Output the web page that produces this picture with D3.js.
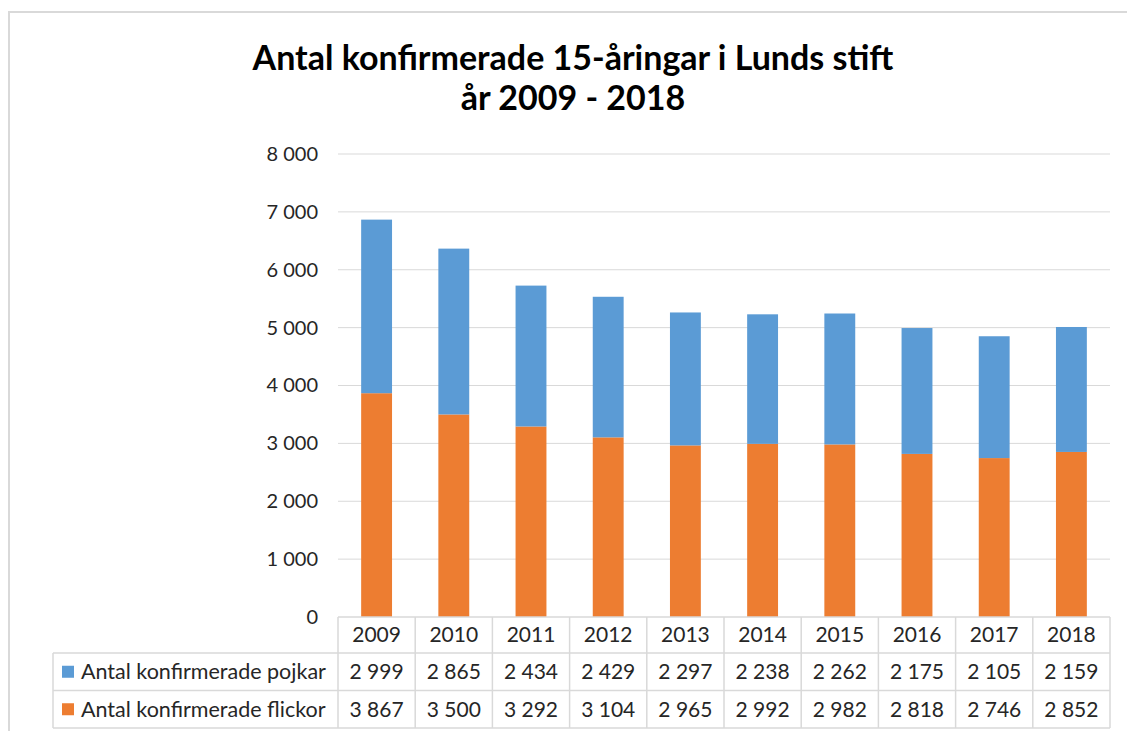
<!DOCTYPE html>
<html>
<head>
<meta charset="utf-8">
<script src="https://cdn.jsdelivr.net/npm/d3@7"></script>
<style>
  body { margin: 0; background: #fff; }
  text { font-family: Lato, "Noto Sans", sans-serif; }
</style>
</head>
<body>
<svg id="chart" width="1127" height="731"></svg>
<script>
// data
const years = ["2009", "2010", "2011", "2012", "2013", "2014", "2015", "2016", "2017", "2018"]
const pojkar = [2999, 2865, 2434, 2429, 2297, 2238, 2262, 2175, 2105, 2159]
const flickor = [3867, 3500, 3292, 3104, 2965, 2992, 2982, 2818, 2746, 2852]
const seriesNames = ["Antal konfirmerade pojkar", "Antal konfirmerade flickor"]
const yTicks = [0, 1000, 2000, 3000, 4000, 5000, 6000, 7000, 8000]

const blue = "#5b9bd5"
const orange = "#ed7d31"
const gridColor = "#d9d9d9"
const textColor = "#262626"

const svg = d3.select("#chart")
const fmt = d3.formatLocale({ decimal: ",", thousands: " ", grouping: [3], currency: ["", ""] }).format(",d")

let plotLeft = 338
let plotRight = 1110
let plotTop = 154
let plotBottom = 617
let rowH = 37.5
let tableLeft = 53

// outer frame
svg.append("path")
    .attr("d", "M9,731 L9,12 L1127,12")
    .attr("fill", "none")
    .attr("stroke", gridColor)
    .attr("stroke-width", 2)

// title
svg.append("text")
    .attr("x", 573).attr("y", 70)
    .attr("text-anchor", "middle")
    .attr("font-size", 34).attr("font-weight", "bold")
    .attr("fill", "#000")
    .text("Antal konfirmerade 15-åringar i Lunds stift")
svg.append("text")
    .attr("x", 573).attr("y", 110)
    .attr("text-anchor", "middle")
    .attr("font-size", 34).attr("font-weight", "bold")
    .attr("fill", "#000")
    .text("år 2009 - 2018")

const x = d3.scaleBand().domain(years).range([plotLeft, plotRight]).paddingInner(0.6).paddingOuter(0.3)
const xCol = d3.scaleBand().domain(years).range([plotLeft, plotRight])
const y = d3.scaleLinear().domain([0, 8000]).range([plotBottom, plotTop])

// gridlines
svg.append("g")
    .selectAll("line")
    .data(yTicks.filter(d => d > 0))
    .join("line")
    .attr("x1", plotLeft).attr("x2", plotRight)
    .attr("y1", d => y(d)).attr("y2", d => y(d))
    .attr("stroke", gridColor).attr("stroke-width", 1)

// y axis labels
const yAxis = d3.axisLeft(y).tickValues(yTicks).tickFormat(fmt).tickSize(0).tickPadding(20)
const yg = svg.append("g").attr("transform", `translate(${plotLeft},0)`).call(yAxis)
yg.select(".domain").remove()
yg.selectAll("text")
    .attr("font-size", 20)
    .attr("font-family", "Lato, sans-serif")
    .attr("fill", textColor)

// stacked bars
const stackData = years.map((yr, i) => ({ year: yr, flickor: flickor[i], pojkar: pojkar[i] }))
const stack = d3.stack().keys(["flickor", "pojkar"])(stackData)
const colors = { flickor: orange, pojkar: blue }

svg.append("g")
    .selectAll("g")
    .data(stack)
    .join("g")
    .attr("fill", d => colors[d.key])
    .selectAll("rect")
    .data(d => d)
    .join("rect")
    .attr("x", d => x(d.data.year))
    .attr("width", x.bandwidth())
    .attr("y", d => y(d[1]))
    .attr("height", d => y(d[0]) - y(d[1]))

// data table
const table = svg.append("g")
const r1 = plotBottom + 36
const r2 = r1 + rowH
const r3 = r2 + rowH

const hLines = [
    [plotLeft, plotBottom],
    [tableLeft, r1],
    [tableLeft, r2],
    [tableLeft, r3]
]
table.selectAll(".hline")
    .data(hLines)
    .join("line")
    .attr("x1", d => d[0]).attr("x2", plotRight)
    .attr("y1", d => d[1]).attr("y2", d => d[1])
    .attr("stroke", gridColor).attr("stroke-width", 1.5)

const vx = years.map(yr => xCol(yr)).concat([plotRight])
table.selectAll(".vline")
    .data(vx)
    .join("line")
    .attr("x1", d => d).attr("x2", d => d)
    .attr("y1", plotBottom).attr("y2", r3)
    .attr("stroke", gridColor).attr("stroke-width", 1.5)
table.append("line")
    .attr("x1", tableLeft).attr("x2", tableLeft)
    .attr("y1", r1).attr("y2", r3)
    .attr("stroke", gridColor).attr("stroke-width", 1.5)

// year header
table.selectAll(".yr")
    .data(years)
    .join("text")
    .attr("x", d => xCol(d) + xCol.bandwidth() / 2)
    .attr("y", (plotBottom + r1) / 2)
    .attr("dy", "0.35em")
    .attr("text-anchor", "middle")
    .attr("font-size", 21)
    .attr("fill", textColor)
    .text(d => d)

const rows = [
    { name: seriesNames[0], color: blue, values: pojkar, top: r1 },
    { name: seriesNames[1], color: orange, values: flickor, top: r2 }
]

rows.forEach(row => {
    const mid = row.top + rowH / 2
    table.append("rect")
        .attr("x", 62).attr("y", mid - 6)
        .attr("width", 12).attr("height", 12)
        .attr("fill", row.color)
    table.append("text")
        .attr("x", 81).attr("y", mid)
        .attr("dy", "0.35em")
        .attr("font-size", 21.5)
        .attr("fill", textColor)
        .text(row.name)
    table.selectAll(null)
        .data(row.values)
        .join("text")
        .attr("x", (d, i) => xCol(years[i]) + xCol.bandwidth() / 2)
        .attr("y", mid)
        .attr("dy", "0.35em")
        .attr("text-anchor", "middle")
        .attr("font-size", 21)
        .attr("fill", textColor)
        .text(d => fmt(d))
})
</script>
</body>
</html>
